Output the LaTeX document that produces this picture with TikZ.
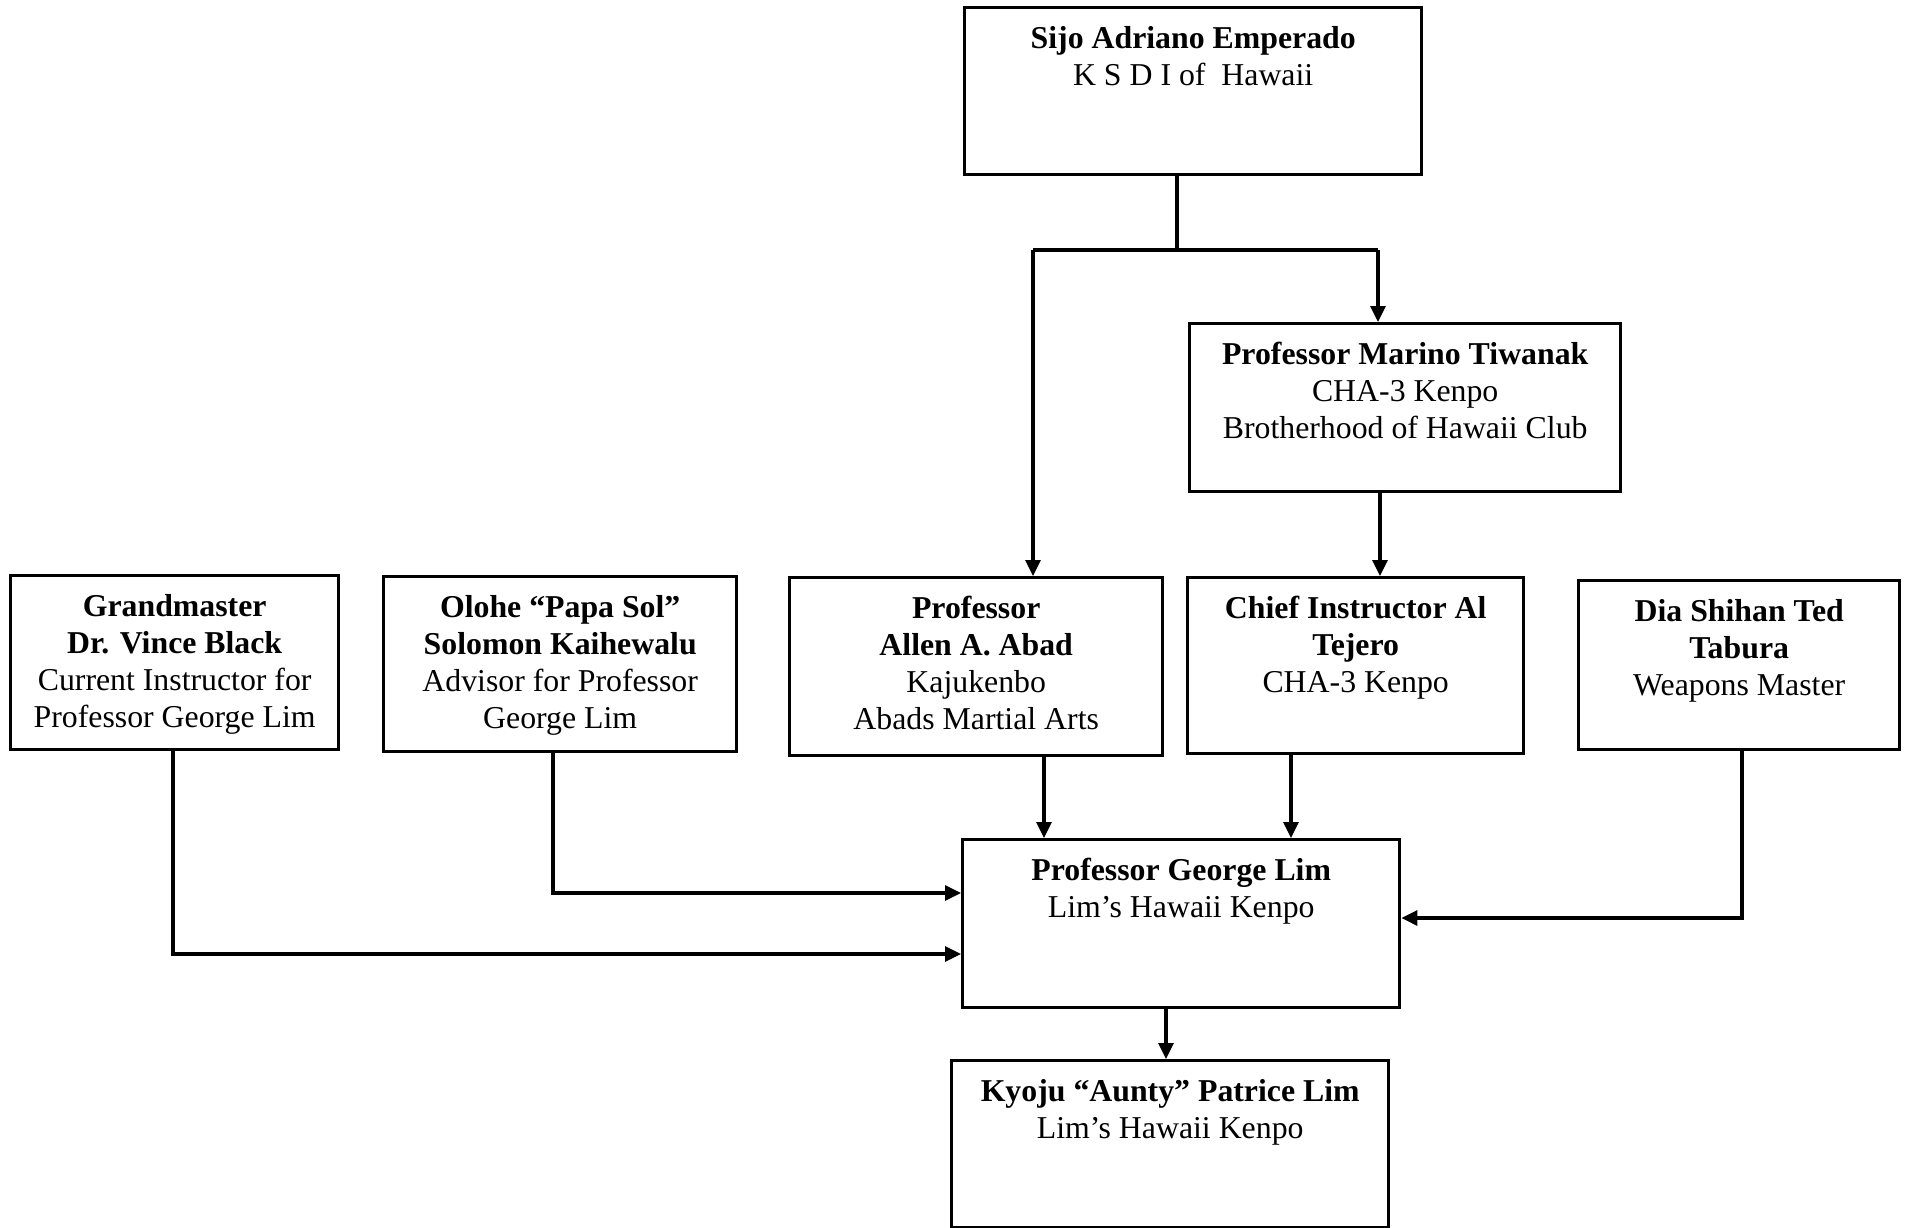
\documentclass[tikz,border=0pt]{standalone}
\usepackage{fontspec}
\setmainfont{Liberation Serif}
\usetikzlibrary{arrows.meta}
\begin{document}
\begin{tikzpicture}[x=1pt,y=-1pt,
  box/.style={draw=black, line width=3.4pt, rectangle, inner sep=0pt, anchor=north west},
  txt/.style={anchor=north, align=center, inner sep=0pt, font=\fontsize{31.8pt}{36.8pt}\selectfont},
  conn/.style={draw=black, line width=3.2pt},
  arr/.style={conn, -{Triangle[length=16pt,width=15pt]}}]
\useasboundingbox (0,0) rectangle (1906,1228);
% boxes
\node[box, minimum width=457pt, minimum height=167pt] (sijo)   at (963,6) {};
\node[box, minimum width=431pt, minimum height=168pt] (marino) at (1188,322) {};
\node[box, minimum width=328pt, minimum height=174pt] (grand)  at (9,574) {};
\node[box, minimum width=353pt, minimum height=175pt] (olohe)  at (382,575) {};
\node[box, minimum width=373pt, minimum height=178pt] (allen)  at (788,576) {};
\node[box, minimum width=336pt, minimum height=176pt] (chief)  at (1186,576) {};
\node[box, minimum width=321pt, minimum height=169pt] (dia)    at (1577,579) {};
\node[box, minimum width=437pt, minimum height=168pt] (george) at (961,838) {};
\node[box, minimum width=437pt, minimum height=167pt] (kyoju)  at (950,1059) {};
% texts
\node[txt] (sijo-t) at ([yshift=-17pt]sijo.north) {\strut\textbf{Sijo Adriano Emperado}\\K S D I of\hspace{0.5em}Hawaii};
\node[txt] (marino-t) at ([yshift=-17pt]marino.north) {\strut\textbf{Professor Marino Tiwanak}\\CHA-3 Kenpo\\Brotherhood of Hawaii Club};
\node[txt] (grand-t) at ([yshift=-17pt]grand.north) {\strut\textbf{Grandmaster}\\\textbf{Dr. Vince Black}\\Current Instructor for\\Professor George Lim};
\node[txt] (olohe-t) at ([yshift=-17pt]olohe.north) {\strut\textbf{Olohe “Papa Sol”}\\\textbf{Solomon Kaihewalu}\\Advisor for Professor\\George Lim};
\node[txt] (allen-t) at ([yshift=-17pt]allen.north) {\strut\textbf{Professor}\\\textbf{Allen A. Abad}\\Kajukenbo\\Abads Martial Arts};
\node[txt] (chief-t) at ([yshift=-17pt]chief.north) {\strut\textbf{Chief Instructor Al}\\\textbf{Tejero}\\CHA-3 Kenpo};
\node[txt] (dia-t) at ([yshift=-17pt]dia.north) {\strut\textbf{Dia Shihan Ted}\\\textbf{Tabura}\\Weapons Master};
\node[txt] (george-t) at ([yshift=-17pt]george.north) {\strut\textbf{Professor George Lim}\\Lim’s Hawaii Kenpo};
\node[txt] (kyoju-t) at ([yshift=-17pt]kyoju.north) {\strut\textbf{Kyoju “Aunty” Patrice Lim}\\Lim’s Hawaii Kenpo};
% junction coordinates
\coordinate (stem) at (1177,250);
\coordinate (jl) at (1033,250);
\coordinate (jr) at (1378,250);
\coordinate (gx) at (173,954);
\coordinate (ox) at (553,893);
\coordinate (dx) at (1742,918);
\coordinate (ax) at (1044,0);
\coordinate (cx) at (1291,0);
\coordinate (mx) at (1380,0);
\coordinate (kx) at (1166,0);
% connectors
\draw[conn] (sijo.south -| stem) -- (stem);
\draw[conn] (jl) -- (jr);
\draw[arr] (jl) -- (jl |- allen.north);
\draw[arr] (jr) -- (jr |- marino.north);
\draw[arr] (marino.south -| mx) -- (chief.north -| mx);
\draw[arr] (allen.south -| ax) -- (george.north -| ax);
\draw[arr] (chief.south -| cx) -- (george.north -| cx);
\draw[arr] (grand.south -| gx) -- (gx) -- (gx -| george.west);
\draw[arr] (olohe.south -| ox) -- (ox) -- (ox -| george.west);
\draw[arr] (dia.south -| dx) -- (dx) -- (dx -| george.east);
\draw[arr] (george.south -| kx) -- (kyoju.north -| kx);
\end{tikzpicture}
\end{document}
